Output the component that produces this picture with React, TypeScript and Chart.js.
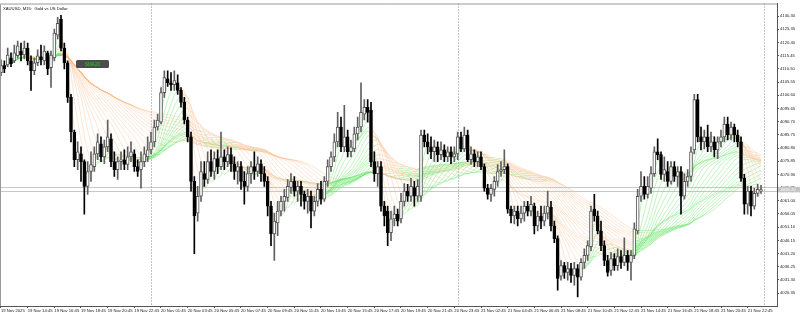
import React, { useEffect, useRef } from "react";
import { Chart, registerables } from "chart.js";
Chart.register(...registerables);

const opens = [
  4109.1, 4111.7, 4112.0, 4114.6, 4113.5, 4115.4, 4117.2, 4115.7, 4118.3, 4113.5,
  4109.8, 4112.8, 4115.0, 4113.5, 4116.5, 4110.9, 4114.6, 4123.1, 4129.1, 4118.3,
  4112.8, 4099.8, 4086.8, 4076.4, 4078.6, 4075.7, 4066.4, 4072.0, 4073.8, 4078.6,
  4082.4, 4077.5, 4081.2, 4084.2, 4075.7, 4072.7, 4075.7, 4076.4, 4074.6, 4077.5,
  4078.6, 4073.8, 4072.7, 4075.7, 4077.5, 4080.1, 4083.1, 4088.7, 4090.5, 4101.6,
  4106.8, 4105.3, 4104.6, 4105.3, 4102.4, 4097.9, 4091.3, 4085.0, 4068.3, 4056.4,
  4062.7, 4071.2, 4069.0, 4075.7, 4072.0, 4076.8, 4073.8, 4077.5, 4075.7, 4078.3,
  4074.9, 4072.0, 4073.8, 4068.3, 4066.4, 4071.2, 4073.8, 4072.0, 4074.9, 4071.2,
  4068.3, 4059.0, 4048.6, 4052.7, 4057.1, 4060.8, 4062.3, 4066.0, 4068.3, 4064.6,
  4066.4, 4063.4, 4060.8, 4062.7, 4057.1, 4060.8, 4065.3, 4061.6, 4068.3, 4073.8,
  4077.5, 4083.1, 4088.7, 4081.2, 4085.0, 4079.4, 4080.5, 4086.1, 4088.7, 4093.5,
  4096.1, 4095.0, 4075.7, 4071.2, 4073.8, 4059.0, 4057.1, 4049.0, 4054.2, 4056.0,
  4054.2, 4060.8, 4064.6, 4062.7, 4066.0, 4062.7, 4062.7, 4085.7, 4083.1, 4081.2,
  4079.4, 4081.2, 4078.3, 4080.1, 4077.5, 4079.4, 4077.5, 4078.6, 4085.0, 4080.5,
  4085.7, 4076.4, 4078.6, 4075.7, 4077.5, 4073.8, 4065.7, 4063.4, 4065.3, 4068.3,
  4072.0, 4072.7, 4073.8, 4057.9, 4055.3, 4057.1, 4054.2, 4056.4, 4059.0, 4057.1,
  4059.0, 4051.6, 4055.3, 4053.4, 4056.4, 4058.6, 4051.6, 4046.8, 4032.7, 4036.7,
  4034.1, 4035.6, 4033.0, 4035.6, 4032.3, 4037.9, 4040.5, 4043.8, 4057.9, 4055.3,
  4049.7, 4044.2, 4038.6, 4034.9, 4039.3, 4036.7, 4040.1, 4037.9, 4040.5, 4037.9,
  4040.5, 4049.7, 4062.7, 4066.4, 4063.4, 4065.7, 4071.2, 4079.4, 4078.3, 4070.9,
  4072.0, 4068.3, 4073.8, 4070.1, 4072.0, 4062.7, 4068.3, 4070.1, 4080.1, 4099.0,
  4085.0, 4083.1, 4085.0, 4081.2, 4083.1, 4080.1, 4083.1, 4085.0, 4089.8, 4085.7,
  4088.7, 4085.7, 4083.1, 4069.4, 4059.7, 4064.6, 4059.0, 4063.8, 4064.6,
];
const highs = [
  4113.9, 4113.5, 4118.3, 4116.5, 4119.4, 4120.9, 4120.2, 4120.9, 4120.2, 4115.4,
  4114.6, 4117.6, 4119.4, 4119.1, 4117.2, 4117.2, 4125.4, 4129.8, 4130.6, 4120.2,
  4113.5, 4100.9, 4087.5, 4083.1, 4081.2, 4076.4, 4075.7, 4079.4, 4081.2, 4086.1,
  4085.0, 4083.8, 4091.3, 4086.1, 4079.4, 4077.5, 4079.4, 4080.1, 4081.2, 4083.1,
  4080.1, 4076.4, 4079.4, 4081.2, 4085.0, 4086.8, 4091.3, 4093.5, 4103.5, 4109.8,
  4109.8, 4109.1, 4109.8, 4108.3, 4103.5, 4099.8, 4092.4, 4086.8, 4070.1, 4066.4,
  4075.7, 4075.7, 4079.4, 4080.1, 4079.4, 4080.1, 4086.8, 4080.1, 4081.2, 4080.9,
  4077.5, 4075.7, 4075.7, 4072.0, 4073.8, 4075.7, 4079.4, 4077.5, 4076.4, 4073.8,
  4070.1, 4060.8, 4056.4, 4060.8, 4062.7, 4065.3, 4069.0, 4071.2, 4070.1, 4068.3,
  4068.3, 4064.6, 4065.3, 4064.6, 4062.7, 4067.5, 4068.3, 4070.1, 4076.4, 4079.4,
  4086.1, 4094.2, 4092.4, 4096.8, 4087.5, 4083.8, 4088.7, 4092.4, 4105.3, 4099.0,
  4099.0, 4097.9, 4079.4, 4075.7, 4075.7, 4060.8, 4059.0, 4057.1, 4059.0, 4057.9,
  4063.8, 4067.5, 4067.2, 4069.4, 4068.3, 4069.0, 4087.5, 4087.5, 4086.1, 4085.0,
  4083.8, 4083.1, 4083.1, 4082.0, 4081.2, 4081.2, 4081.2, 4086.8, 4086.8, 4088.7,
  4087.5, 4081.2, 4080.1, 4079.4, 4079.4, 4074.9, 4067.2, 4067.2, 4070.1, 4074.6,
  4075.7, 4080.1, 4074.9, 4059.0, 4059.0, 4059.0, 4059.0, 4060.8, 4060.8, 4062.7,
  4060.1, 4057.1, 4059.0, 4059.0, 4064.6, 4060.8, 4053.4, 4047.9, 4038.6, 4037.9,
  4037.9, 4037.5, 4037.9, 4037.1, 4039.3, 4043.0, 4046.0, 4059.0, 4063.4, 4057.1,
  4053.4, 4046.0, 4040.5, 4041.6, 4041.2, 4043.0, 4042.3, 4047.1, 4042.3, 4042.3,
  4052.7, 4065.3, 4072.0, 4070.1, 4070.1, 4073.8, 4081.2, 4084.2, 4079.4, 4077.5,
  4075.7, 4075.7, 4075.7, 4073.8, 4073.8, 4071.2, 4072.7, 4081.2, 4100.9, 4100.9,
  4088.7, 4087.5, 4089.4, 4086.8, 4085.0, 4085.0, 4087.5, 4092.4, 4092.4, 4090.5,
  4089.8, 4087.5, 4085.0, 4070.9, 4066.4, 4066.4, 4065.7, 4067.2, 4066.8,
];
const lows = [
  4107.9, 4109.1, 4111.3, 4111.3, 4112.8, 4114.6, 4113.5, 4114.2, 4112.0, 4102.4,
  4108.3, 4111.7, 4112.0, 4112.0, 4108.3, 4103.5, 4113.5, 4121.7, 4117.2, 4110.5,
  4097.9, 4083.1, 4073.8, 4072.7, 4068.3, 4056.0, 4063.4, 4068.3, 4072.0, 4076.4,
  4075.7, 4074.9, 4079.4, 4073.8, 4070.1, 4069.0, 4072.7, 4072.7, 4072.7, 4075.7,
  4072.0, 4070.1, 4065.7, 4073.8, 4075.7, 4078.6, 4081.2, 4087.5, 4089.8, 4099.8,
  4103.9, 4102.4, 4102.4, 4100.9, 4096.1, 4089.8, 4083.1, 4064.6, 4041.2, 4053.4,
  4060.8, 4066.4, 4067.5, 4070.1, 4069.0, 4071.2, 4072.7, 4072.7, 4073.8, 4072.0,
  4069.0, 4067.2, 4065.3, 4059.7, 4064.6, 4067.5, 4069.0, 4070.1, 4068.3, 4066.4,
  4055.3, 4044.2, 4038.6, 4047.9, 4055.3, 4057.1, 4060.8, 4063.8, 4062.7, 4060.8,
  4059.0, 4057.9, 4056.4, 4050.8, 4055.3, 4059.0, 4059.7, 4060.8, 4066.4, 4072.0,
  4075.7, 4081.2, 4079.4, 4079.4, 4077.5, 4077.5, 4079.4, 4083.8, 4086.8, 4091.3,
  4090.5, 4073.8, 4068.3, 4066.4, 4057.1, 4051.6, 4044.2, 4046.0, 4051.6, 4051.6,
  4052.7, 4059.0, 4060.8, 4060.8, 4059.0, 4060.8, 4060.8, 4081.2, 4078.6, 4076.8,
  4075.7, 4075.7, 4076.4, 4075.7, 4075.7, 4074.9, 4075.7, 4076.4, 4079.4, 4079.4,
  4075.7, 4074.6, 4073.8, 4073.8, 4072.7, 4064.6, 4061.6, 4060.8, 4062.7, 4066.4,
  4070.1, 4071.2, 4056.4, 4052.7, 4052.3, 4051.6, 4052.7, 4053.4, 4055.3, 4055.3,
  4048.6, 4049.7, 4050.5, 4051.6, 4054.2, 4049.7, 4045.3, 4027.5, 4031.2, 4031.9,
  4031.2, 4030.4, 4029.3, 4024.9, 4031.2, 4035.6, 4038.6, 4042.3, 4053.4, 4048.6,
  4042.3, 4036.7, 4032.7, 4033.0, 4034.9, 4034.9, 4035.6, 4036.7, 4034.9, 4031.2,
  4039.3, 4048.6, 4060.8, 4061.6, 4062.0, 4063.8, 4070.1, 4076.4, 4069.0, 4068.3,
  4066.4, 4067.2, 4068.3, 4066.4, 4056.0, 4061.6, 4066.4, 4068.3, 4078.6, 4083.1,
  4080.1, 4080.5, 4079.4, 4079.4, 4077.5, 4076.8, 4081.2, 4083.1, 4083.8, 4083.8,
  4083.1, 4081.2, 4068.3, 4056.0, 4056.0, 4055.3, 4057.9, 4062.7, 4063.8,
];
const closes = [
  4111.7, 4110.5, 4115.7, 4112.4, 4116.5, 4119.1, 4115.7, 4118.3, 4113.5, 4109.8,
  4112.8, 4115.4, 4113.9, 4117.2, 4110.5, 4115.7, 4123.9, 4127.6, 4118.3, 4112.8,
  4099.8, 4086.8, 4076.4, 4079.4, 4075.7, 4066.4, 4072.0, 4074.6, 4078.6, 4083.1,
  4077.5, 4081.2, 4085.0, 4075.7, 4072.7, 4075.7, 4076.4, 4074.6, 4077.5, 4079.4,
  4073.8, 4072.0, 4075.7, 4078.6, 4080.1, 4083.1, 4088.7, 4091.3, 4101.6, 4107.2,
  4105.3, 4104.6, 4106.1, 4102.4, 4097.9, 4091.3, 4085.0, 4068.3, 4055.3, 4062.7,
  4072.0, 4069.0, 4075.7, 4072.0, 4076.8, 4073.8, 4077.5, 4075.7, 4078.3, 4074.9,
  4072.0, 4073.8, 4068.3, 4066.4, 4071.2, 4073.8, 4072.0, 4074.9, 4071.2, 4068.3,
  4059.0, 4048.6, 4053.4, 4057.1, 4060.8, 4062.7, 4066.4, 4068.3, 4064.6, 4066.4,
  4063.4, 4060.8, 4062.7, 4057.1, 4060.8, 4065.3, 4061.6, 4068.3, 4073.8, 4077.5,
  4083.1, 4088.7, 4081.2, 4085.0, 4079.4, 4081.2, 4086.1, 4088.7, 4094.2, 4096.1,
  4094.2, 4075.7, 4071.2, 4073.8, 4059.0, 4055.3, 4049.0, 4054.2, 4056.0, 4053.4,
  4060.8, 4064.6, 4062.7, 4066.4, 4062.7, 4066.4, 4085.7, 4083.1, 4081.2, 4079.4,
  4081.2, 4078.3, 4080.1, 4077.5, 4079.4, 4077.5, 4078.6, 4085.0, 4080.5, 4085.7,
  4076.4, 4078.6, 4075.7, 4077.5, 4073.8, 4065.7, 4063.4, 4065.7, 4068.3, 4072.0,
  4072.7, 4073.8, 4057.9, 4055.3, 4057.1, 4054.2, 4056.4, 4059.0, 4057.1, 4059.7,
  4051.6, 4055.3, 4053.4, 4056.4, 4059.0, 4051.6, 4046.8, 4031.9, 4036.7, 4034.1,
  4035.6, 4033.0, 4035.6, 4032.3, 4037.9, 4040.5, 4044.2, 4057.1, 4055.3, 4049.7,
  4044.2, 4038.6, 4034.1, 4039.3, 4036.7, 4040.1, 4037.9, 4040.5, 4037.9, 4040.5,
  4050.5, 4062.7, 4066.4, 4063.4, 4066.4, 4071.2, 4079.4, 4078.3, 4070.9, 4072.7,
  4068.3, 4073.8, 4070.1, 4072.0, 4062.7, 4068.3, 4070.1, 4079.4, 4099.0, 4085.0,
  4083.1, 4085.0, 4081.2, 4083.1, 4080.1, 4083.1, 4085.0, 4089.8, 4085.7, 4088.7,
  4085.7, 4083.1, 4069.4, 4059.7, 4064.6, 4059.0, 4063.8, 4065.3, 4065.2,
];

const timeLabels = [
  "19 Nov 2025", "19 Nov 14:45", "19 Nov 16:45", "19 Nov 18:45", "19 Nov 20:45",
  "19 Nov 22:45", "20 Nov 01:45", "20 Nov 03:45", "20 Nov 05:45", "20 Nov 07:45",
  "20 Nov 09:45", "20 Nov 11:45", "20 Nov 13:45", "20 Nov 15:45", "20 Nov 17:45",
  "20 Nov 19:45", "20 Nov 21:45", "20 Nov 23:45", "21 Nov 02:45", "21 Nov 04:45",
  "21 Nov 06:45", "21 Nov 08:45", "21 Nov 10:45", "21 Nov 12:45", "21 Nov 14:45",
  "21 Nov 16:45", "21 Nov 18:45", "21 Nov 20:45", "21 Nov 22:45",
];
const barsPerLabel = 8;
const priceTicks = [
  4026.35, 4031.30, 4036.25, 4041.20, 4046.15, 4051.10, 4056.05, 4061.00, 4065.95,
  4070.90, 4075.85, 4080.80, 4085.75, 4090.70, 4095.65, 4100.60, 4105.55, 4110.50,
  4115.45, 4120.40, 4125.35, 4130.30,
];
const daySeparators = [45, 137, 229];
const maPeriods = [3, 5, 7, 9, 11, 13, 15, 17, 19, 21, 23, 25, 27, 29, 31, 33, 35, 37, 39, 41, 43, 45, 47];
const askPrice = 4066.0;
const bidPrice = 4064.6;
const lastPrice = 4065.2;
const chartTitle = "XAUUSD, M15:  Gold vs US Dollar";
const maLabel = "SMA20";
const maLabelBar = 22.5;
const maLabelPrice = 4113.8;
const yMin = 4021.53;
const yMax = 4135.01;
const xMin = -0.3;
const xMax = 232.8;

const GREEN = "rgba(100, 228, 100, 0.5)";
const ORANGE = "rgba(250, 185, 135, 0.45)";
const FONT = "'Liberation Sans', Arial, sans-serif";
const FS = 4.2;

function sma(period: number): number[] {
  return closes.map((_, i) => {
    const s = Math.max(0, i - period + 1);
    let t = 0;
    for (let k = s; k <= i; k++) t += closes[k];
    return t / (i - s + 1);
  });
}

export default function App() {
  const ref = useRef<HTMLCanvasElement>(null);
  useEffect(() => {
    const canvas = ref.current;
    if (!canvas) return;
    const idx = closes.map((_, i) => i);
    const up = (i: number) => closes[i] >= opens[i];

    const maSets = maPeriods.map((p) => ({
      type: "line" as const,
      data: sma(p).map((v, i) => ({ x: i, y: v })),
      borderColor: GREEN,
      borderWidth: 0.8,
      pointRadius: 0,
      tension: 0,
      order: 10,
      segment: {
        borderColor: (ctx: any) => (ctx.p1.parsed.y >= ctx.p0.parsed.y ? GREEN : ORANGE),
      },
    }));

    const wicks = {
      type: "bar" as const,
      data: idx.map((i) => ({ x: i, y: [lows[i], highs[i]] })),
      backgroundColor: idx.map((i) => (up(i) ? "#606060" : "#000")),
      barThickness: 1,
      grouped: false,
      order: 2,
    };
    const bodies = {
      type: "bar" as const,
      data: idx.map((i) => ({ x: i, y: [opens[i], closes[i]] })),
      backgroundColor: idx.map((i) => (up(i) ? "#fff" : "#000")),
      borderColor: idx.map((i) => (up(i) ? "#555" : "#000")),
      borderWidth: 1,
      borderSkipped: false,
      barThickness: 3,
      grouped: false,
      order: 1,
    };

    const overlay = {
      id: "mtOverlay",
      beforeDatasetsDraw(chart: any) {
        const { ctx, chartArea: a, scales } = chart;
        const xs = scales.x, ys = scales.y;
        ctx.save();
        ctx.strokeStyle = "#c8c8c8";
        ctx.lineWidth = 1;
        [askPrice, bidPrice].forEach((p) => {
          const y = Math.round(ys.getPixelForValue(p)) + 0.5;
          ctx.beginPath();
          ctx.moveTo(a.left, y);
          ctx.lineTo(a.right, y);
          ctx.stroke();
        });
        ctx.strokeStyle = "#888";
        ctx.setLineDash([1, 2]);
        daySeparators.forEach((b) => {
          const x = Math.round(xs.getPixelForValue(b)) + 0.5;
          ctx.beginPath();
          ctx.moveTo(x, a.top);
          ctx.lineTo(x, a.bottom);
          ctx.stroke();
        });
        ctx.restore();
      },
      afterDraw(chart: any) {
        const { ctx, chartArea: a, scales } = chart;
        const xs = scales.x, ys = scales.y;
        ctx.save();
        ctx.strokeStyle = "#999";
        ctx.lineWidth = 1;
        ctx.beginPath();
        ctx.moveTo(a.left + 0.5, a.bottom);
        ctx.lineTo(a.left + 0.5, a.top + 0.5);
        ctx.lineTo(a.right, a.top + 0.5);
        ctx.stroke();

        ctx.fillStyle = "#111";
        ctx.font = `${FS}px ${FONT}`;
        ctx.textBaseline = "middle";
        ctx.textAlign = "left";
        ctx.fillText(chartTitle, a.left + 3, a.top + 5);

        const lx = xs.getPixelForValue(maLabelBar);
        const ly = ys.getPixelForValue(maLabelPrice);
        ctx.fillStyle = "#4d4d4d";
        ctx.beginPath();
        (ctx as any).roundRect(lx, ly, 33, 8, 1.5);
        ctx.fill();
        ctx.fillStyle = "#1fd01f";
        ctx.textAlign = "center";
        ctx.font = `4.6px ${FONT}`;
        ctx.fillText(maLabel, lx + 16.5, ly + 4.2);

        const py = ys.getPixelForValue(lastPrice);
        ctx.fillStyle = "#c4c4c4";
        ctx.fillRect(a.right + 1, py - 2.8, chart.width - a.right - 1, 5.6);
        ctx.fillStyle = "#fff";
        ctx.textAlign = "left";
        ctx.font = `${FS}px ${FONT}`;
        ctx.fillText(lastPrice.toFixed(2), a.right + 3.5, py + 0.2);
        ctx.restore();
      },
    };

    const tickIdx = timeLabels.map((_, k) => k * barsPerLabel);

    const chart = new Chart(canvas, {
      type: "bar",
      data: { datasets: [bodies, wicks, ...maSets] as any },
      options: {
        animation: false,
        responsive: false,
        devicePixelRatio: 1,
        layout: { padding: 0 },
        plugins: { legend: { display: false }, tooltip: { enabled: false } },
        scales: {
          x: {
            type: "linear",
            min: xMin,
            max: xMax,
            offset: false,
            afterBuildTicks: (s: any) => {
              s.ticks = tickIdx.map((v) => ({ value: v }));
            },
            afterFit: (s: any) => {
              s.height = 9;
            },
            ticks: {
              autoSkip: false,
              maxRotation: 0,
              minRotation: 0,
              align: "start",
              padding: 0.5,
              color: "#222",
              font: { size: FS, family: FONT },
              callback: (_v: any, k: number) => timeLabels[k],
            },
            grid: { drawOnChartArea: false, tickLength: 2, color: "#555", offset: false },
            border: { color: "#555" },
          },
          y: {
            type: "linear",
            position: "right",
            min: yMin,
            max: yMax,
            afterBuildTicks: (s: any) => {
              s.ticks = priceTicks.map((v) => ({ value: v }));
            },
            afterFit: (s: any) => {
              s.width = 23;
            },
            ticks: {
              padding: 1,
              color: "#222",
              font: { size: FS, family: FONT },
              callback: (v: any) => Number(v).toFixed(2),
            },
            grid: { drawOnChartArea: false, tickLength: 2, color: "#555" },
            border: { color: "#555" },
          },
        },
      } as any,
      plugins: [overlay],
    });
    return () => chart.destroy();
  }, []);

  return (
    <div style={{ position: "fixed", left: 0, top: 0, width: 800, height: 315, background: "#fff" }}>
      <canvas ref={ref} width={800} height={315} style={{ display: "block" }} />
    </div>
  );
}
